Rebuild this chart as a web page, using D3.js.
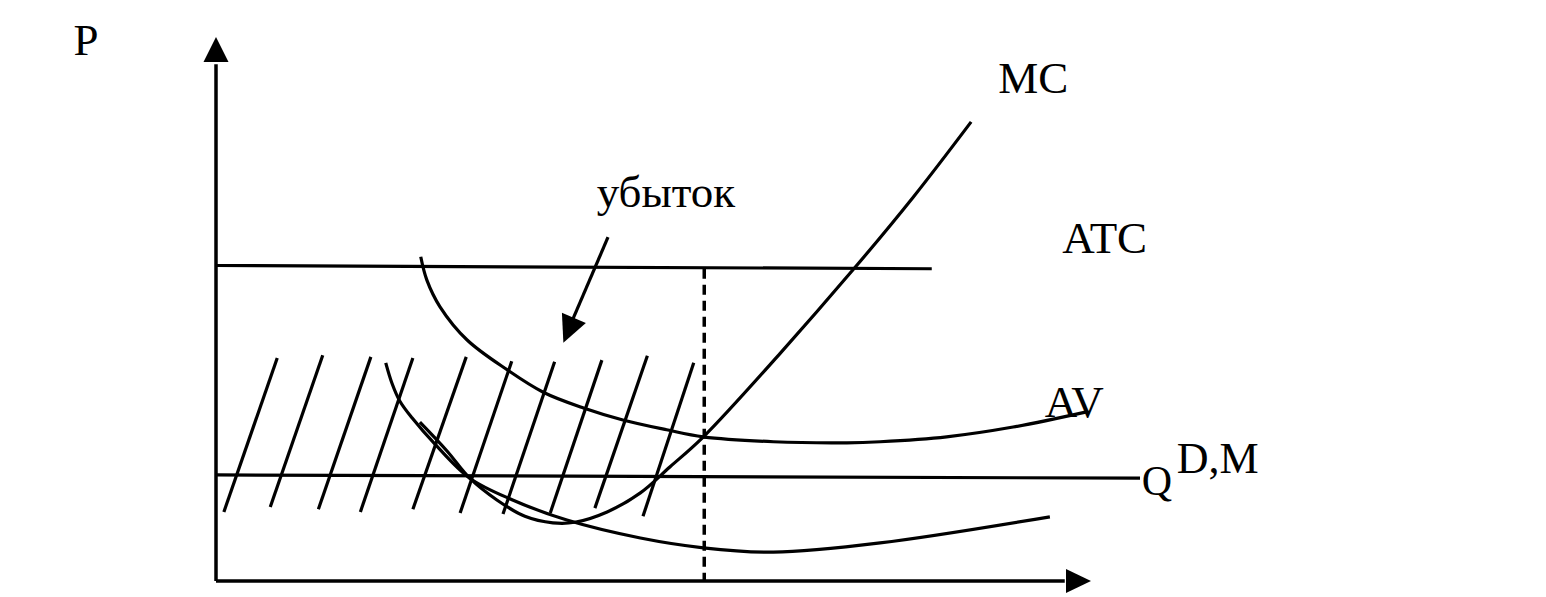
<!DOCTYPE html>
<html>
<head>
<meta charset="utf-8">
<script src="https://cdn.jsdelivr.net/npm/d3@7/dist/d3.min.js"></script>
<style>
  body { margin: 0; background: #fff; }
  text { font-family: "Liberation Serif", "Times New Roman", serif; fill: #000; }
</style>
</head>
<body>
<div id="chart"></div>
<script>
// all values in chart units: Q along x (0..100), P along y (0..100)
var mcCurve = [[23.3,29.2],[26.4,23.9],[29.0,18.9],[32.1,14.9],[35.3,11.9],[38.5,10.7],
  [41.0,10.8],[44.7,12.7],[48.5,16.2],[51.9,21.0],[55.7,26.5],[64.5,41.9],[72.8,57.2],
  [79.7,70.6],[86.3,84.4]];
var avCurve = [[23.4,59.6],[24.1,55.3],[25.6,50.4],[28.7,44.3],[33.3,38.8],[37.4,34.7],
  [42.0,31.8],[46.5,29.6],[51.5,27.8],[55.7,26.5],[63.7,25.6],[72.1,25.4],[75.9,25.6],
  [83.5,26.5],[91.1,28.3],[99.5,31.1]];
var lowCurve = [[19.4,40.1],[20.1,36.4],[21.0,33.1],[22.4,30.0],[25.0,25.2],[29.0,18.9],
  [33.9,14.9],[40.1,11.2],[48.5,7.9],[55.7,6.1],[63.7,5.3],[75.9,7.0],[95.3,11.8]];
var atcLine = [[0,58.0],[81.8,57.4]];
var priceLine = [[0,19.5],[105.6,18.9]];
var qStar = 55.8;
var qStarTop = 57.4;
// hatching strokes: [topQ, topP, bottomQ, bottomP]
var hatch = [[7.0,41.0,0.9,12.7],[12.2,41.5,6.2,13.6],[17.7,41.2,11.7,13.2],
  [22.5,41.0,16.5,12.7],[28.6,41.2,22.5,13.2],[33.8,40.4,27.9,12.5],
  [38.7,40.3,32.8,12.3],[44.1,40.6,38.2,12.5],[49.3,41.4,43.3,13.4],
  [54.6,40.1,48.8,11.9]];
var lossArrow = [[44.8,63.2],[39.7,43.8]];
var labels = [
  {text: "P", q: -16.3, p: 96.7, size: 45},
  {text: "MC", q: 89.4, p: 89.7, size: 45},
  {text: "ATC", q: 96.7, p: 60.3, size: 45},
  {text: "AV", q: 94.7, p: 30.1, size: 45},
  {text: "Q", q: 105.8, p: 15.8, size: 42},
  {text: "D,M", q: 109.8, p: 19.9, size: 44},
  {text: "убыток", q: 43.5, p: 68.8, size: 45}
];

var width = 1546, height = 597;

var svg = d3.select("#chart").append("svg")
    .attr("width", width)
    .attr("height", height);

var x = d3.scaleLinear().domain([0, 100]).range([216, 1091]);
var y = d3.scaleLinear().domain([0, 100]).range([581, 37]);

var line = d3.line()
    .x(function(d) { return x(d[0]); })
    .y(function(d) { return y(d[1]); });
var curve = d3.line()
    .x(function(d) { return x(d[0]); })
    .y(function(d) { return y(d[1]); })
    .curve(d3.curveCatmullRom.alpha(0.5));

function arrowHead(x0, y0, x1, y1, len, half) {
  var dx = x1 - x0, dy = y1 - y0, l = Math.sqrt(dx * dx + dy * dy);
  var ux = dx / l, uy = dy / l;
  var bx = x1 - ux * len, by = y1 - uy * len;
  return "M" + x1 + "," + y1 +
    "L" + (bx - uy * half) + "," + (by + ux * half) +
    "L" + (bx + uy * half) + "," + (by - ux * half) + "Z";
}

// axes
svg.append("path")
    .attr("d", line([[0, 0], [0, 95]]))
    .attr("stroke", "#000").attr("stroke-width", 3.5).attr("fill", "none");
svg.append("path")
    .attr("d", arrowHead(x(0), y(0), x(0), y(100), 25, 12.5));
svg.append("path")
    .attr("d", line([[0, 0], [97, 0]]))
    .attr("stroke", "#000").attr("stroke-width", 3.5).attr("fill", "none");
svg.append("path")
    .attr("d", arrowHead(x(0), y(0), x(100), y(0), 25, 12));

// hatching
svg.selectAll(".hatch")
    .data(hatch)
  .enter().append("line")
    .attr("class", "hatch")
    .attr("x1", function(d) { return x(d[0]); })
    .attr("y1", function(d) { return y(d[1]); })
    .attr("x2", function(d) { return x(d[2]); })
    .attr("y2", function(d) { return y(d[3]); })
    .attr("stroke", "#000").attr("stroke-width", 3.2);

// horizontal levels
[atcLine, priceLine].forEach(function(l) {
  svg.append("path").attr("d", line(l))
      .attr("stroke", "#000").attr("stroke-width", 3.2).attr("fill", "none");
});

// dashed Q*
svg.append("path")
    .attr("d", line([[qStar, qStarTop], [qStar, 0]]))
    .attr("stroke", "#000").attr("stroke-width", 3.5)
    .attr("stroke-dasharray", "10,6").attr("fill", "none");

// cost curves
[mcCurve, avCurve, lowCurve].forEach(function(c) {
  svg.append("path").attr("d", curve(c))
      .attr("stroke", "#000").attr("stroke-width", 3.2).attr("fill", "none");
});

// loss arrow
svg.append("path")
    .attr("d", line([lossArrow[0], [lossArrow[1][0] + 1.0, lossArrow[1][1] + 4]]))
    .attr("stroke", "#000").attr("stroke-width", 3.2).attr("fill", "none");
svg.append("path")
    .attr("d", arrowHead(x(lossArrow[0][0]), y(lossArrow[0][1]),
                         x(lossArrow[1][0]), y(lossArrow[1][1]), 27, 13));

// labels
svg.selectAll(".lbl")
    .data(labels)
  .enter().append("text")
    .attr("class", "lbl")
    .attr("x", function(d) { return x(d.q); })
    .attr("y", function(d) { return y(d.p); })
    .attr("font-size", function(d) { return d.size + "px"; })
    .text(function(d) { return d.text; });
</script>
</body>
</html>
